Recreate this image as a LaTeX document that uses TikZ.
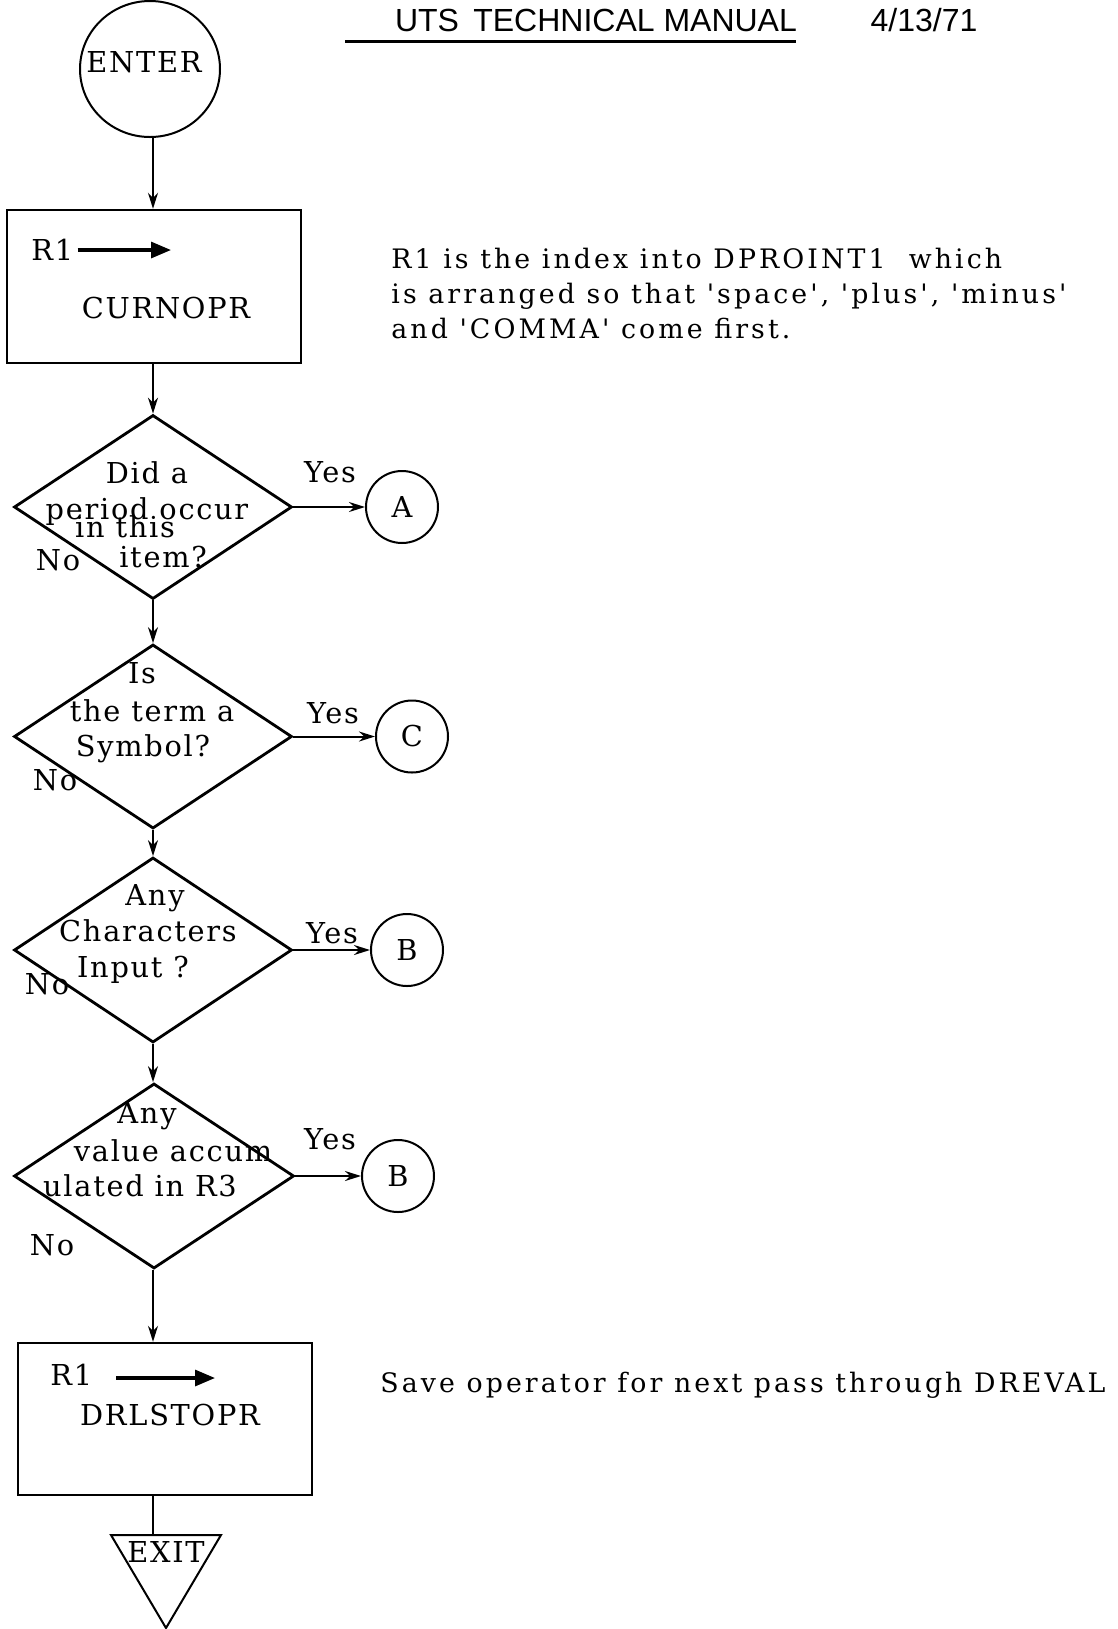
\documentclass[tikz,border=0pt]{standalone}
\usepackage{fontspec}
\setmainfont{DejaVu Serif}[LetterSpace=6]
\newfontfamily\notefont{DejaVu Serif}[Ligatures=TeXOff, LetterSpace=11.5]
\newfontfamily\headfont{Liberation Sans}
\usetikzlibrary{shapes.geometric,arrows.meta}

\begin{document}
\begin{tikzpicture}[x=0.5pt,y=-0.5pt,
  every node/.style={font=\fontsize{14.4}{17}\selectfont, inner sep=0pt},
  lbl/.style={anchor=base},
  note/.style={anchor=base west, font=\notefont\fontsize{13.4}{16}\selectfont},
  decision/.style={diamond, draw, line width=1.4pt, minimum width=139pt, minimum height=92pt},
  procbox/.style={rectangle, draw, line width=1.2pt, minimum width=147pt, minimum height=76.5pt},
  connector/.style={circle, draw, line width=1pt, minimum size=36pt},
  flow/.style={line width=1pt, -{Stealth[length=8pt,width=5pt]}},
  assign/.style={line width=1.6pt, -{Triangle[length=10pt,width=8pt]}}
]
\useasboundingbox (0,0) rectangle (1118,1629);

% page header
\node[lbl, font=\headfont\fontsize{16}{19}\selectfont] (title) at (596,31) {UTS\, TECHNICAL MANUAL};
\node[lbl, font=\headfont\fontsize{16}{19}\selectfont] (date) at (924,31) {4/13/71};
\draw[line width=1.4pt] (345,41.5) -- (796,41.5);

% entry
\node[ellipse, draw, line width=1pt, minimum width=70pt, minimum height=68pt] (enter) at (150,69) {};
\node[lbl] (entertxt) at (144,72) {ENTER};

% first processing box
\node[procbox] (box1) at (154,286.5) {};
\node[anchor=base west] (r1a) at (31,260) {R1};
\coordinate (r1aend) at (171,250);
\draw[assign] (r1a.east |- r1aend) ++(4,0) -- (r1aend);
\node[lbl] (curnopr) at (166,318) {CURNOPR};

\node[note] (n1) at (391,268) {R1 is the index into DPROINT1\ \ which};
\node[note] (n2) at (391,303) {is arranged so that 'space', 'plus', 'minus'};
\node[note] (n3) at (391,338) {and 'COMMA' come first.};

% decisions
\node[decision] (d1) at (153,507) {};
\node[decision] (d2) at (153,736.5) {};
\node[decision, minimum height=92.5pt] (d3) at (153,950) {};
\node[decision, minimum width=140pt, minimum height=92.5pt] (d4) at (154,1176) {};

\node[lbl] at (147,483) {Did a};
\node[lbl] at (147,519) {period occur};
\node[lbl] at (125,537) {in this};
\node[lbl] at (163,567) {item?};
\node[lbl] at (58,570) {No};
\node[lbl] at (330,482) {Yes};

\node[lbl] at (142,683) {Is};
\node[lbl] at (152,721) {the term a};
\node[lbl] at (143,756) {Symbol?};
\node[lbl] at (55,790) {No};
\node[lbl] at (333,723) {Yes};

\node[lbl] at (155,905) {Any};
\node[lbl] at (148,941) {Characters};
\node[lbl] at (133,977) {Input ?};
\node[lbl] at (47,994) {No};
\node[lbl] at (332,943) {Yes};

\node[lbl] at (147,1123) {Any};
\node[lbl] at (173,1161) {value accum};
\node[lbl] at (140,1196) {ulated in R3};
\node[lbl] at (52,1255) {No};
\node[lbl] at (330,1149) {Yes};

% off-page connectors
\node[connector] (cA) at (402,507) {A};
\node[connector] (cC) at (412,736.5) {C};
\node[connector] (cB1) at (407,950) {B};
\node[connector] (cB2) at (398,1176) {B};

% second processing box
\node[procbox, minimum height=76pt] (box2) at (165,1419) {};
\node[anchor=base west] (r1b) at (50,1385) {R1};
\coordinate (r1bend) at (215,1378);
\draw[assign] (116,1378) -- (r1bend);
\node[lbl] (drlstopr) at (170,1425) {DRLSTOPR};
\node[note] (n4) at (380,1392) {Save operator for next pass through DREVAL};

% exit
\coordinate (exitT) at (153,1535);
\draw[line width=1pt] (111,1535) -- (221,1535) -- (166,1628) -- cycle;
\node[lbl] (exittxt) at (166,1562) {EXIT};

% flow lines
\draw[flow] (d1.north |- enter.south) -- (d1.north |- box1.north);
\draw[flow] (d1.north |- box1.south) -- (d1.north);
\draw[flow] (d1.south) -- (d2.north);
\draw[flow] (d2.south) -- (d3.north);
\draw[flow] (d3.south) -- (d3.south |- d4.north);
\draw[flow] (d3.south |- d4.south) -- (d3.south |- box2.north);
\draw[line width=1pt] (d3.south |- box2.south) -- (exitT);

\draw[flow] (d1.east) -- (cA.west);
\draw[flow] (d2.east) -- (cC.west);
\draw[flow] (d3.east) -- (cB1.west);
\draw[flow] (d4.east) -- (cB2.west);
\end{tikzpicture}
\end{document}
